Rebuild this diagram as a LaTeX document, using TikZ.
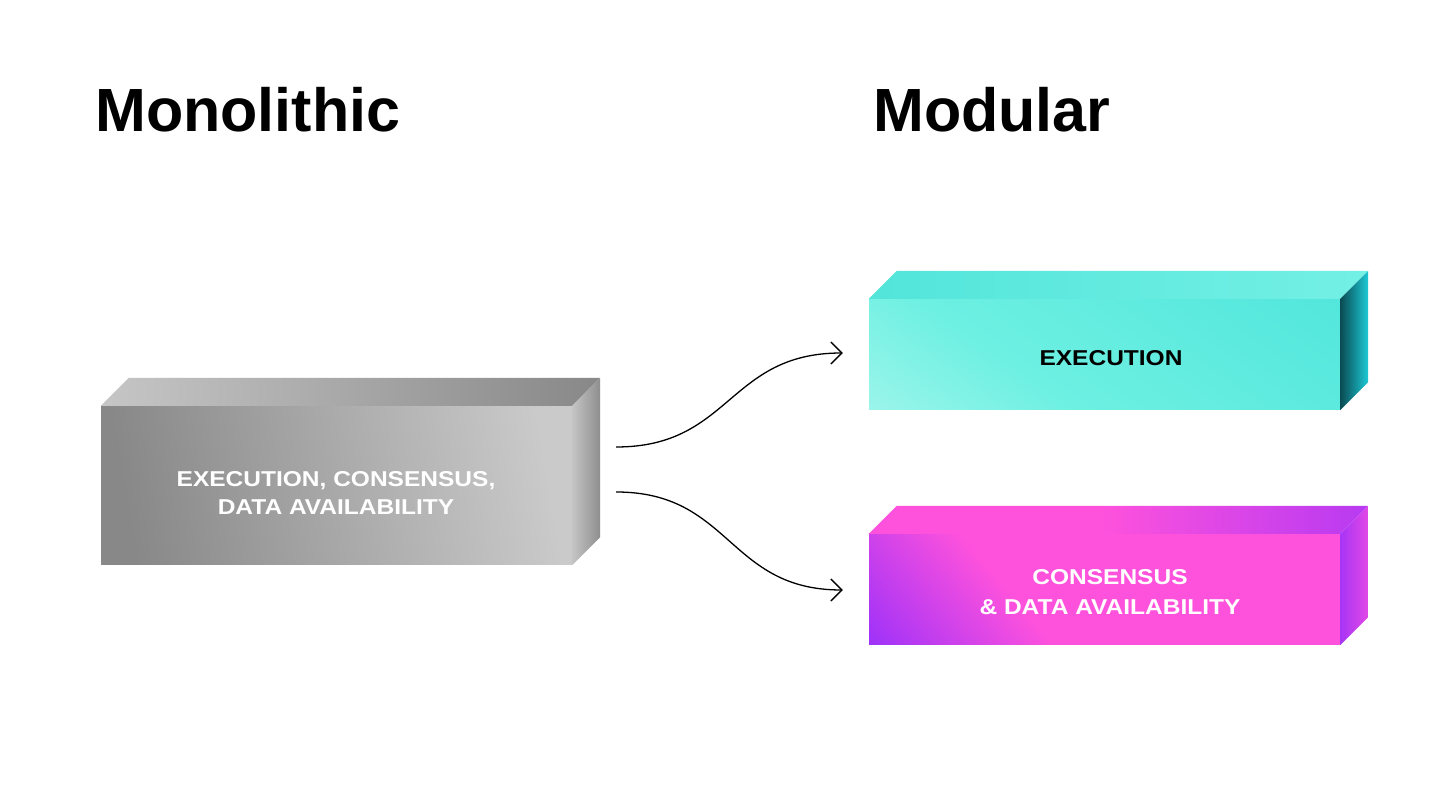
\documentclass[tikz,border=0pt]{standalone}
\usepackage{fontspec}
\setmainfont{Liberation Sans}
\newfontfamily\headfont{Liberation Sans}
\newfontfamily\boxfont[FakeStretch=1.14]{Liberation Sans}
\usetikzlibrary{arrows.meta,calc}
\definecolor{gA}{HTML}{888888}
\definecolor{gB}{HTML}{CACACA}
\definecolor{gTopA}{HTML}{C6C6C6}
\definecolor{gTopB}{HTML}{888888}
\definecolor{gSideA}{HTML}{C4C4C4}
\definecolor{gSideB}{HTML}{8E8E8E}
\definecolor{cLight}{HTML}{BAF8F0}
\definecolor{cMid}{HTML}{6DF0E2}
\definecolor{cDark}{HTML}{4AE3DA}
\definecolor{cTopA}{HTML}{52E5DA}
\definecolor{cTopB}{HTML}{74F0E5}
\definecolor{cSideA}{HTML}{0A4B53}
\definecolor{cSideB}{HTML}{1CCAD6}
\definecolor{mPink}{HTML}{FF52DC}
\definecolor{mPurp}{HTML}{8A2BFF}
\pgfdeclarehorizontalshading{cfront}{100bp}{color(0bp)=(cLight); color(38bp)=(cMid); color(100bp)=(cDark)}
\pgfdeclarehorizontalshading{mfront}{100bp}{color(0bp)=(mPurp); color(10bp)=(mPurp); color(38bp)=(mPink); color(100bp)=(mPink)}
\pgfdeclarehorizontalshading{mtop}{100bp}{color(0bp)=(mPink); color(48bp)=(mPink); color(92bp)=(mPurp); color(100bp)=(mPurp)}
\pgfdeclarehorizontalshading{mside}{100bp}{color(0bp)=(mPurp); color(100bp)=(mPink)}
\tikzset{
  front/.style={draw=none, inner sep=0pt, minimum width=471pt},
  heading/.style={anchor=base west, inner sep=0pt, font=\headfont\bfseries\fontsize{61}{61}\selectfont},
  boxtext/.style={align=center, inner sep=0pt, font=\boxfont\bfseries\fontsize{21.5}{28}\selectfont},
  flow/.style={line width=1.3pt, -{Straight Barb[length=11pt,width=22pt,line width=1.3pt]}},
}
\begin{document}
\begin{tikzpicture}[x=1pt,y=1pt]
\fill[white] (0,0) rectangle (1442,784);
\useasboundingbox (0,0) rectangle (1442,784);

% headings
\node[heading] (hmono) at (95,652) {Monolithic};
\node[heading] (hmod) at (873,652) {Modular};

% monolithic box
\node[front, minimum height=159pt, left color=gA, right color=gB, shading angle=100] (mono) at (336.5,298.5) {};
\shade[left color=gTopA, right color=gTopB] (mono.north west) -- (mono.north east) -- ++(28,28) -- ($(mono.north west)+(28,28)$) -- cycle;
\shade[left color=gSideA, right color=gSideB] (mono.north east) -- (mono.south east) -- ++(28,28) -- ($(mono.north east)+(28,28)$) -- cycle;
\node[boxtext, text=white] (tmono) at (336,291) {EXECUTION, CONSENSUS,\\DATA AVAILABILITY};

% execution box
\node[front, minimum height=111pt, shading=cfront, shading angle=55] (exec) at (1104.5,429.5) {};
\shade[left color=cTopA, right color=cTopB] (exec.north west) -- (exec.north east) -- ++(28,28) -- ($(exec.north west)+(28,28)$) -- cycle;
\shade[left color=cSideA, right color=cSideB] (exec.north east) -- (exec.south east) -- ++(28,28) -- ($(exec.north east)+(28,28)$) -- cycle;
\node[boxtext, text=black] (texec) at (1111,425.5) {EXECUTION};

% consensus box
\node[front, minimum height=111pt, shading=mfront, shading angle=40] (cons) at (1104.5,194.5) {};
\shade[shading=mtop] (cons.north west) -- (cons.north east) -- ++(28,28) -- ($(cons.north west)+(28,28)$) -- cycle;
\shade[shading=mside] (cons.north east) -- (cons.south east) -- ++(28,28) -- ($(cons.north east)+(28,28)$) -- cycle;
\node[boxtext, text=white, font=\boxfont\bfseries\fontsize{21.5}{30}\selectfont] (tcons) at (1110,191.5) {CONSENSUS\\\& DATA AVAILABILITY};

% connectors
\coordinate (s1) at ($(mono.east)+(44,38.5)$);
\coordinate (s2) at ($(mono.east)+(44,-6.5)$);
\coordinate (e1) at ($(exec.west)+(-26,1.5)$);
\coordinate (e2) at ($(cons.west)+(-26,-0.5)$);
\draw[flow] (s1) .. controls +(115,0) and +(-115,0) .. (e1);
\draw[flow] (s2) .. controls +(115,0) and +(-115,0) .. (e2);
\end{tikzpicture}
\end{document}
